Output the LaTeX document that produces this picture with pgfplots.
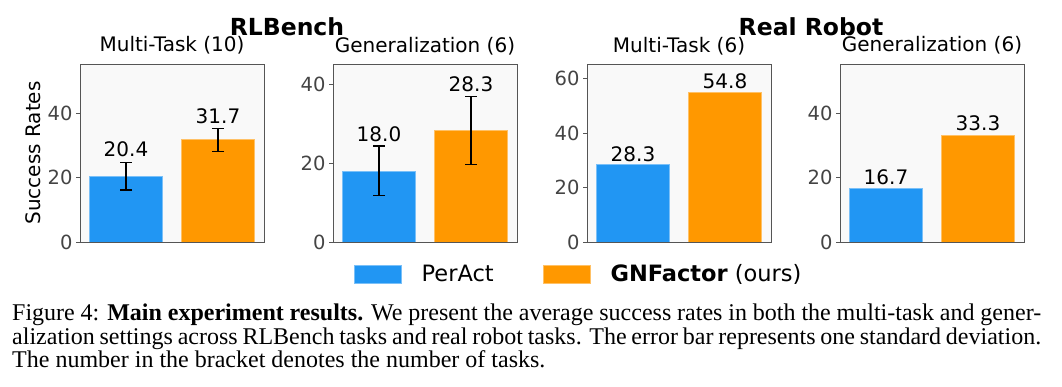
\documentclass[border=0pt]{standalone}
\usepackage{pgfplots}
\pgfplotsset{compat=1.18}
\usepackage{fontspec}
\setmainfont{DejaVu Sans}
\newfontfamily\capfont{Liberation Serif}
\definecolor{blueC}{RGB}{33,150,243}
\definecolor{orangeC}{RGB}{255,152,0}
\definecolor{bgC}{RGB}{249,249,249}
\definecolor{axC}{RGB}{85,85,85}
\definecolor{tickC}{RGB}{68,68,68}
\newcommand{\tfont}{\fontsize{19.5}{20}\selectfont}
\newcommand{\vfont}{\fontsize{20}{20}\selectfont}
\pgfplotsset{
  panel/.style={
    scale only axis, width=184pt, height=178pt,
    anchor=south west,
    xmin=-0.5, xmax=1.5, ymin=0,
    ybar, bar width=0.8, bar shift=0pt,
    xtick=\empty,
    axis background/.style={fill=bgC},
    axis line style={color=axC, line width=0.9pt},
    tick align=outside, ytick pos=left,
    major tick length=4pt,
    tick style={color=axC, line width=0.9pt},
    /pgf/number format/assume math mode=true,
    yticklabel style={text=tickC, font=\tfont},
    title style={at={(axis description cs:0.5,1)}, anchor=base, yshift=6pt, font=\fontsize{20}{20}\selectfont},
    error bars/error bar style={line width=1.2pt, color=black},
    error bars/error mark options={rotate=90, mark size=6pt, line width=1.2pt, color=black},
  },
  bluebar/.style={fill=blueC, draw=blueC!60!white, line width=0.8pt},
  orangebar/.style={fill=orangeC, draw=orangeC!60!white, line width=0.8pt},
}
\begin{document}
\begin{tikzpicture}
\useasboundingbox (0,0) rectangle (1062pt,-387pt);
% Panel 1
\begin{axis}[panel, at={(80pt,-242pt)}, ymax=55.2, ytick={0,20,40},
  title={Multi-Task (10)},
  ylabel={Success Rates},
  every axis y label/.style={at={(axis description cs:-0.255,0.5)}, rotate=90, anchor=center, font=\fontsize{20}{20}\selectfont}]
\addplot[bluebar, error bars/.cd, y dir=both, y explicit] coordinates {(0,20.4) +- (0,4.3)};
\addplot[orangebar, error bars/.cd, y dir=both, y explicit] coordinates {(1,31.7) +- (0,3.6)};
\node[anchor=base, font=\vfont] at (axis cs:0,26.4) {20.4};
\node[anchor=base, font=\vfont] at (axis cs:1,36.9) {31.7};
\end{axis}
% Panel 2
\begin{axis}[panel, at={(333pt,-242pt)}, ymax=45.1, ytick={0,20,40},
  title={Generalization (6)}]
\addplot[bluebar, error bars/.cd, y dir=both, y explicit] coordinates {(0,18.0) +- (0,6.3)};
\addplot[orangebar, error bars/.cd, y dir=both, y explicit] coordinates {(1,28.3) +- (0,8.6)};
\node[anchor=base, font=\vfont] at (axis cs:0,25.4) {18.0};
\node[anchor=base, font=\vfont] at (axis cs:1,38.2) {28.3};
\end{axis}
% Panel 3
\begin{axis}[panel, at={(587pt,-242pt)}, ymax=65.3, ytick={0,20,40,60},
  title={Multi-Task (6)},
  legend columns=2,
  legend style={at={(axis description cs:-1.268,-0.18)}, anchor=west, draw=none, fill=none,
    font=\fontsize{22.5}{22.5}\selectfont, inner sep=0pt,
    /tikz/every even column/.append style={column sep=47pt}},
  legend image code/.code={\draw[#1] (0pt,-9pt) rectangle (47pt,9pt); \path (65pt,0pt);}]
\addplot[bluebar, forget plot] coordinates {(0,28.3)};
\addplot[orangebar, forget plot] coordinates {(1,54.8)};
\node[anchor=base, font=\vfont] at (axis cs:0,29.7) {28.3};
\node[anchor=base, font=\vfont] at (axis cs:1,56.4) {54.8};
\addlegendimage{fill=blueC, draw=blueC!60!white, line width=0.8pt}
\addlegendentry{PerAct}
\addlegendimage{fill=orangeC, draw=orangeC!60!white, line width=0.8pt}
\addlegendentry{\textbf{GNFactor} (ours)}
\end{axis}
% Panel 4
\begin{axis}[panel, at={(840pt,-242pt)}, ymax=55.4, ytick={0,20,40},
  title={Generalization (6)}]
\addplot[bluebar] coordinates {(0,16.7)};
\addplot[orangebar] coordinates {(1,33.3)};
\node[anchor=base, font=\vfont] at (axis cs:0,17.95) {16.7};
\node[anchor=base, font=\vfont] at (axis cs:1,34.8) {33.3};
\end{axis}
% Group titles
\node[anchor=base, font=\fontsize{23.5}{23.5}\selectfont\bfseries] at (287pt,-36pt) {RLBench};
\node[anchor=base, font=\fontsize{23.5}{23.5}\selectfont\bfseries] at (811pt,-36pt) {Real Robot};
% Caption
\node[anchor=base west, inner sep=0pt] at (12pt,-320.7pt) {\capfont\fontsize{24}{24}\selectfont\makebox[1029pt][s]{Figure 4: \textbf{Main experiment results.} We present the average success rates in both the multi-task and gener-}};
\node[anchor=base west, inner sep=0pt] at (12pt,-344pt) {\capfont\fontsize{24}{24}\selectfont\makebox[1029pt][s]{alization settings across RLBench tasks and real robot tasks. The error bar represents one standard deviation.}};
\node[anchor=base west, inner sep=0pt] at (12pt,-367.3pt) {\capfont\fontsize{24}{24}\selectfont The number in the bracket denotes the number of tasks.};
\end{tikzpicture}
\end{document}
